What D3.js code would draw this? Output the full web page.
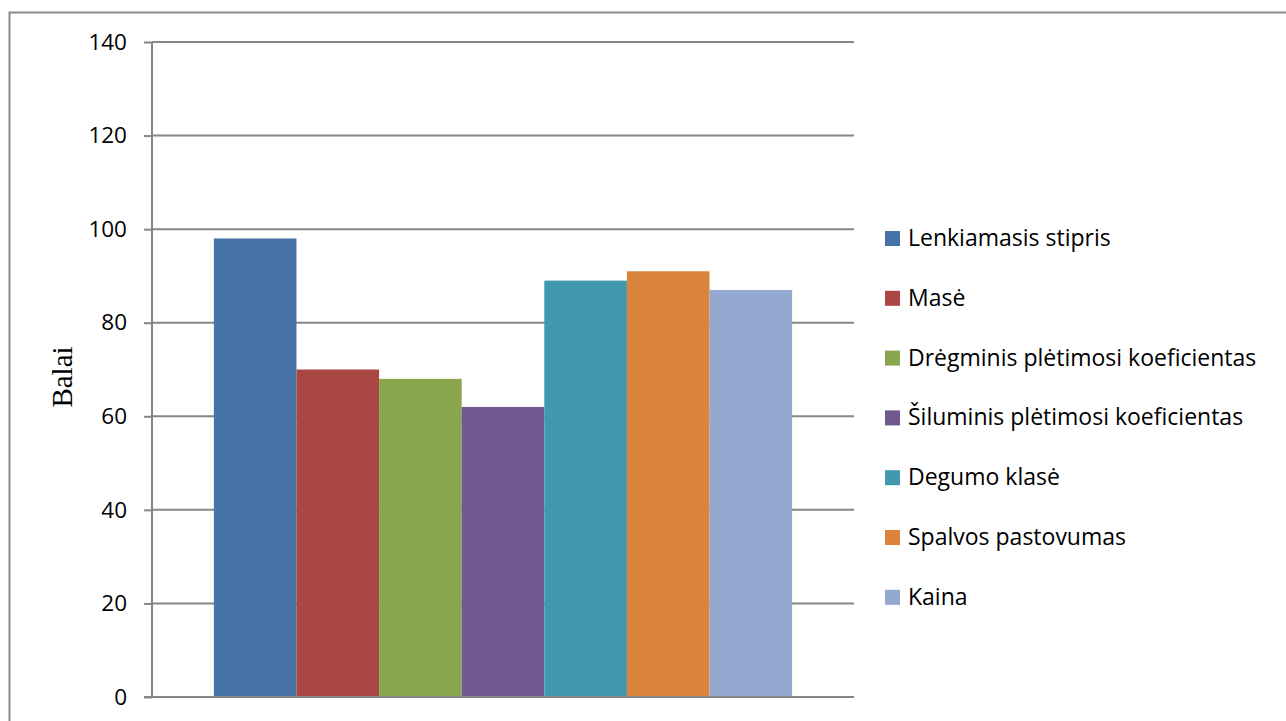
<!DOCTYPE html>
<html>
<head>
<meta charset="utf-8">
<script src="https://cdn.jsdelivr.net/npm/d3@7"></script>
<style>
  body { margin: 0; background: #fff; }
  svg { display: block; }
</style>
</head>
<body>
<svg id="chart"></svg>
<script>
// chart data
const categories = ["1"];
const seriesNames = [
  "Lenkiamasis stipris",
  "Masė",
  "Drėgminis plėtimosi koeficientas",
  "Šiluminis plėtimosi koeficientas",
  "Degumo klasė",
  "Spalvos pastovumas",
  "Kaina"
];
const seriesValues = [98, 70, 68, 62, 89, 91, 87];
const seriesColors = ["#4572A7", "#AA4643", "#89A54E", "#71588F", "#4198AF", "#DB843D", "#93A9CF"];
const yTicks = [0, 20, 40, 60, 80, 100, 120, 140];
const yTitle = "Balai";

const W = 1286, H = 721;
const margin = { top: 42, right: 432, bottom: 24, left: 152 };
const width = W - margin.left - margin.right;
const height = H - margin.top - margin.bottom;

const svg = d3.select("#chart").attr("width", W).attr("height", H);

// outer frame
svg.append("path")
  .attr("d", "M9.5," + H + "V12.5H" + W)
  .attr("fill", "none")
  .attr("stroke", "#8c8c8c")
  .attr("stroke-width", 2);

const g = svg.append("g")
  .attr("transform", "translate(" + margin.left + "," + margin.top + ")");

const y = d3.scaleLinear().domain([0, 140]).range([height, 0]);

const x0 = d3.scaleBand()
  .domain(categories)
  .range([0, width])
  .paddingInner(0)
  .paddingOuter(0.107);

const x1 = d3.scaleBand()
  .domain(seriesNames)
  .range([0, x0.bandwidth()]);

// ticks + labels
const yAxis = g.append("g")
  .call(d3.axisLeft(y).tickValues(yTicks).tickSize(8).tickFormat(d3.format("d")));
yAxis.select(".domain").attr("stroke", "#868686").attr("stroke-width", 2).attr("d", "M0," + height + "V0");
yAxis.selectAll(".tick line").attr("stroke", "#868686").attr("stroke-width", 2);
yAxis.selectAll(".tick text")
  .attr("x", -25)
  .style("font-family", "'Open Sans', sans-serif")
  .style("font-size", "22.5px")
  .attr("fill", "#000");

// gridlines
g.append("g")
  .selectAll("line")
  .data(yTicks)
  .enter().append("line")
  .attr("x1", 0)
  .attr("x2", width)
  .attr("y1", d => y(d))
  .attr("y2", d => y(d))
  .attr("stroke", "#868686")
  .attr("stroke-width", 2);

// bars
g.append("g")
  .selectAll("g")
  .data(categories)
  .enter().append("g")
  .attr("transform", d => "translate(" + x0(d) + ",0)")
  .selectAll("rect")
  .data(() => seriesNames.map((name, i) => ({ name: name, value: seriesValues[i], color: seriesColors[i] })))
  .enter().append("rect")
  .attr("x", d => x1(d.name))
  .attr("y", d => y(d.value))
  .attr("width", x1.bandwidth())
  .attr("height", d => height - y(d.value))
  .attr("fill", d => d.color);

// baseline on top of bars
g.append("line")
  .attr("x1", -8).attr("x2", width)
  .attr("y1", y(0)).attr("y2", y(0))
  .attr("stroke", "#868686")
  .attr("stroke-width", 2);

// y title
svg.append("text")
  .attr("transform", "translate(72,377) rotate(-90)")
  .attr("text-anchor", "middle")
  .style("font-family", "'Liberation Serif', 'Times New Roman', serif")
  .style("font-size", "29px")
  .text(yTitle);

// legend
const legend = svg.append("g").attr("transform", "translate(885,238)");
const item = legend.selectAll("g")
  .data(seriesNames)
  .enter().append("g")
  .attr("transform", (d, i) => "translate(0," + (i * 59.8) + ")");
item.append("rect")
  .attr("x", 0).attr("y", -7)
  .attr("width", 15).attr("height", 15)
  .attr("fill", (d, i) => seriesColors[i]);
item.append("text")
  .attr("x", 23)
  .attr("y", 0)
  .attr("dy", "0.35em")
  .style("font-family", "'Open Sans', sans-serif")
  .style("font-size", "23px")
  .attr("fill", "#000")
  .text(d => d);
</script>
</body>
</html>
